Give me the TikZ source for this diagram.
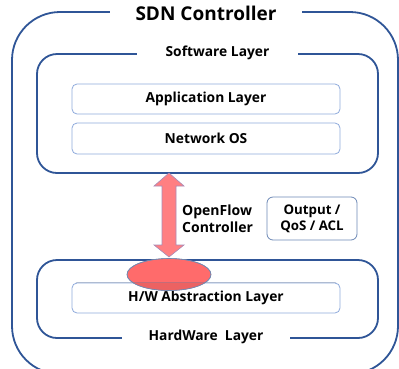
\documentclass[tikz,border=0pt]{standalone}
\usepackage{fontspec}
\setmainfont{Open Sans}
\usetikzlibrary{shapes.geometric}
\definecolor{frameblue}{HTML}{2F5597}
\definecolor{boxblue}{HTML}{8FAADC}
\definecolor{arrowfill}{HTML}{FF7F82}
\definecolor{arrowedge}{HTML}{A88CB8}
\definecolor{blobfill}{HTML}{FF6B6B}
\definecolor{blobdark}{HTML}{EC6262}
\begin{document}
\begin{tikzpicture}[x=1pt,y=-1pt,
  frame/.style={draw=frameblue,line width=1.8pt},
  layerbox/.style={draw=boxblue,line width=0.8pt,rounded corners=5pt,fill=white},
  gaplabel/.style={fill=white,inner sep=0pt,minimum height=14pt,font=\bfseries},
  boxtext/.style={font=\bfseries\fontsize{13.8}{15}\selectfont}]
\useasboundingbox (0,0) rectangle (399,368);
\fill[white] (0,0) rectangle (399,368);
\begin{scope}
\clip (0,0) rectangle (399,368);
% outer controller frame
\draw[frame,rounded corners=48pt] (12,12) rectangle (398,374);
\end{scope}
\node[gaplabel,minimum width=192pt,font=\bfseries\fontsize{19}{21}\selectfont] (title) at (206,13.5) {SDN Controller};

% software layer
\draw[frame,rounded corners=20pt] (37,54) rectangle (378,173);
\node[gaplabel,minimum width=161pt,font=\bfseries\fontsize{13.8}{15}\selectfont] (swlabel) at (217.5,53) {Software Layer};
\node[layerbox,boxtext,minimum width=268pt,minimum height=30pt] (app) at (206,99) {Application Layer};
\node[layerbox,boxtext,minimum width=268pt,minimum height=31pt] (nos) at (206,138.5) {Network OS};

% hardware layer
\draw[frame,rounded corners=20pt] (37,260) rectangle (378,338);
\node[gaplabel,minimum width=168pt,font=\bfseries\fontsize{13.8}{15}\selectfont] (hwlabel) at (206,337) {HardWare\ \ Layer};
\node[layerbox,boxtext,minimum width=268pt,minimum height=30pt] (hal) at (206,298) {H/W Abstraction Layer};

% interface marker on the hardware layer, darker where it overlaps the abstraction box
\node[ellipse,fill=blobfill,draw=boxblue!80!black,line width=0.6pt,minimum width=84pt,minimum height=32pt,inner sep=0pt] (port) at (169,274.5) {};
\begin{scope}
\clip[rounded corners=5pt] (hal.south west) rectangle (hal.north east);
\fill[blobdark] (port.center) ellipse[x radius=41.7pt,y radius=15.7pt];
\draw[boxblue!70!black,line width=0.6pt] (hal.north west) -- (hal.north east);
\end{scope}
\draw[boxblue!80!black,line width=0.6pt] (port.center) ellipse[x radius=42pt,y radius=16pt];

% OpenFlow double arrow between the layers
\coordinate (atop) at (169,173);
\coordinate (abot) at (169,257);
\filldraw[fill=arrowfill,draw=arrowedge,line width=0.6pt]
  (atop) -- ++(15,13) -- ++(-8,0) -- (176,245) -- ++(8,0) -- (abot)
  -- ++(-15,-12) -- ++(8,0) -- (162,186) -- ++(-8,0) -- cycle;

\node[align=left,anchor=west,font=\bfseries\fontsize{14}{17}\selectfont,inner sep=0pt] (of) at (182,218.5) {OpenFlow\\Controller};
\node[draw=frameblue!70,line width=0.8pt,rounded corners=6pt,minimum width=90pt,minimum height=43pt,align=center,font=\bfseries\fontsize{13.3}{16}\selectfont] (qos) at (312,218.5) {Output /\\QoS / ACL};
\end{tikzpicture}
\end{document}
